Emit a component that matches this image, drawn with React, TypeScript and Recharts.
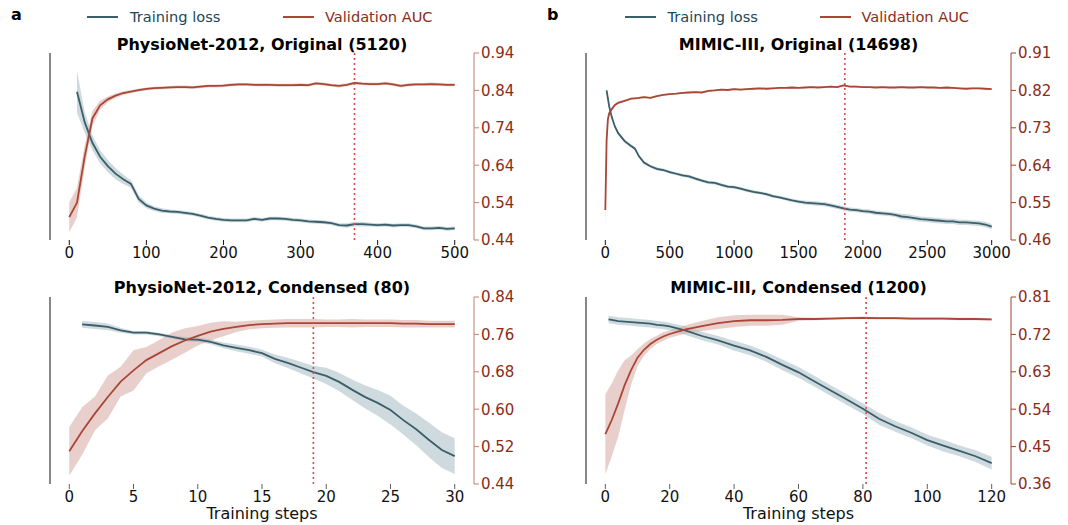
import React from 'react';
import { ComposedChart, Line, Area, XAxis, YAxis, ReferenceLine } from 'recharts';

// ---------- Panel a: PhysioNet-2012, Original (5120) ----------
const aSteps = [0,10,20,30,40,50,60,70,80,90,100,110,120,130,140,150,160,170,180,190,200,210,220,230,240,250,260,270,280,290,300,310,320,330,340,350,360,370,380,390,400,410,420,430,440,450,460,470,480,490,500];
const aLoss = [null,0.577,0.512,0.468,0.438,0.418,0.402,0.390,0.380,0.348,0.334,0.327,0.323,0.321,0.320,0.318,0.316,0.312,0.308,0.305,0.303,0.302,0.302,0.302,0.305,0.303,0.306,0.306,0.305,0.303,0.302,0.300,0.299,0.298,0.296,0.292,0.291,0.294,0.294,0.293,0.292,0.293,0.291,0.292,0.292,0.289,0.285,0.285,0.286,0.284,0.285];
const aLossBand = [0,0.045,0.022,0.016,0.014,0.013,0.012,0.010,0.008,0.008,0.006,0.005,0.005,0.004,0.004,0.004,0.004,0.004,0.004,0.004,0.004,0.004,0.004,0.004,0.004,0.004,0.004,0.004,0.004,0.004,0.004,0.004,0.004,0.004,0.004,0.004,0.005,0.005,0.005,0.004,0.004,0.004,0.004,0.004,0.004,0.004,0.004,0.004,0.004,0.004,0.004];
const aAuc = [0.501,0.540,0.663,0.765,0.800,0.816,0.826,0.833,0.837,0.841,0.844,0.846,0.847,0.848,0.849,0.849,0.848,0.850,0.852,0.852,0.853,0.855,0.856,0.856,0.855,0.855,0.855,0.854,0.854,0.854,0.855,0.854,0.859,0.857,0.854,0.852,0.855,0.860,0.858,0.857,0.857,0.859,0.856,0.852,0.855,0.856,0.856,0.857,0.856,0.855,0.855];
const aAucBand = [0.040,0.040,0.030,0.020,0.012,0.008,0.006,0.005,0.004,0.004,0.004,0.004,0.004,0.004,0.004,0.004,0.004,0.004,0.004,0.004,0.004,0.004,0.004,0.004,0.004,0.004,0.004,0.004,0.004,0.004,0.004,0.004,0.004,0.004,0.004,0.004,0.004,0.004,0.004,0.004,0.004,0.004,0.004,0.004,0.004,0.004,0.004,0.004,0.004,0.004,0.004];
const aXTicks = [0,100,200,300,400,500];
const aLeftTicks = [0.26,0.34,0.42,0.50,0.58,0.66];
const aRightTicks = [0.44,0.54,0.64,0.74,0.84,0.94];
const aBest = 370;

// ---------- Panel b: MIMIC-III, Original (14698) ----------
const bSteps = [0,10,20,30,50,75,100,150,200,230,260,300,350,400,450,500,550,600,650,700,750,800,850,900,950,1000,1050,1100,1150,1200,1250,1300,1350,1400,1450,1500,1550,1600,1650,1700,1750,1800,1850,1900,1950,2000,2050,2100,2150,2200,2250,2300,2350,2400,2450,2500,2550,2600,2650,2700,2750,2800,2850,2900,2950,3000];
const bLoss = [null,0.680,0.665,0.650,0.630,0.612,0.600,0.585,0.576,0.571,0.557,0.545,0.538,0.533,0.531,0.527,0.524,0.521,0.519,0.515,0.511,0.508,0.507,0.503,0.500,0.499,0.496,0.493,0.490,0.488,0.486,0.482,0.480,0.477,0.474,0.472,0.470,0.469,0.468,0.467,0.465,0.462,0.459,0.457,0.456,0.454,0.453,0.451,0.450,0.449,0.447,0.444,0.443,0.441,0.439,0.438,0.437,0.436,0.435,0.435,0.433,0.433,0.432,0.431,0.429,0.425];
const bLossBand = [0,0.006,0.005,0.004,0.004,0.003,0.003,0.003,0.003,0.003,0.003,0.003,0.003,0.003,0.003,0.003,0.003,0.003,0.003,0.003,0.003,0.003,0.003,0.003,0.003,0.003,0.003,0.003,0.003,0.003,0.003,0.003,0.003,0.003,0.003,0.003,0.004,0.004,0.004,0.004,0.004,0.004,0.004,0.004,0.004,0.004,0.004,0.004,0.004,0.004,0.004,0.005,0.005,0.005,0.005,0.005,0.005,0.005,0.005,0.005,0.005,0.005,0.005,0.005,0.005,0.005];
const bAuc = [0.532,0.700,0.750,0.765,0.775,0.785,0.790,0.795,0.800,0.801,0.802,0.804,0.802,0.806,0.809,0.811,0.812,0.814,0.815,0.816,0.815,0.819,0.820,0.822,0.821,0.823,0.822,0.823,0.824,0.825,0.824,0.825,0.826,0.826,0.827,0.826,0.827,0.828,0.827,0.828,0.829,0.828,0.832,0.829,0.829,0.828,0.828,0.827,0.828,0.827,0.827,0.828,0.827,0.827,0.828,0.827,0.827,0.826,0.827,0.826,0.825,0.824,0.825,0.825,0.824,0.823];
const bAucBand = [0.050,0.030,0.012,0.006,0.004,0.003,0.003,0.002,0.002,0.002,0.002,0.002,0.002,0.002,0.002,0.002,0.002,0.002,0.002,0.002,0.002,0.002,0.002,0.002,0.002,0.002,0.002,0.002,0.002,0.002,0.002,0.002,0.002,0.002,0.002,0.002,0.002,0.002,0.002,0.002,0.002,0.002,0.002,0.002,0.002,0.002,0.002,0.002,0.002,0.002,0.002,0.002,0.002,0.002,0.002,0.002,0.002,0.002,0.002,0.002,0.002,0.002,0.002,0.002,0.002,0.002];
const bXTicks = [0,500,1000,1500,2000,2500,3000];
const bLeftTicks = [0.40,0.47,0.54,0.61,0.68,0.75];
const bRightTicks = [0.46,0.55,0.64,0.73,0.82,0.91];
const bBest = 1860;

// ---------- Panel c: PhysioNet-2012, Condensed (80) ----------
const cSteps = [0,1,2,3,4,5,6,7,8,9,10,11,12,13,14,15,16,17,18,19,20,21,22,23,24,25,26,27,28,29,30];
const cLoss = [null,0.695,0.691,0.686,0.674,0.666,0.666,0.660,0.651,0.643,0.642,0.634,0.622,0.613,0.605,0.595,0.575,0.561,0.545,0.529,0.516,0.495,0.468,0.443,0.422,0.397,0.362,0.330,0.293,0.258,0.237];
const cLossBand = [0,0.012,0.012,0.012,0.008,0.006,0.006,0.006,0.006,0.008,0.008,0.008,0.010,0.012,0.012,0.012,0.015,0.018,0.020,0.022,0.028,0.032,0.035,0.040,0.045,0.050,0.050,0.055,0.060,0.062,0.062];
const cAuc = [0.510,0.553,0.591,0.626,0.659,0.683,0.705,0.720,0.735,0.747,0.757,0.766,0.772,0.776,0.780,0.782,0.783,0.784,0.784,0.784,0.784,0.784,0.784,0.784,0.784,0.784,0.783,0.783,0.782,0.782,0.782];
const cAucBand = [0.052,0.051,0.036,0.046,0.032,0.043,0.028,0.028,0.029,0.026,0.021,0.019,0.016,0.011,0.009,0.009,0.009,0.009,0.009,0.009,0.008,0.008,0.009,0.008,0.008,0.008,0.008,0.008,0.007,0.007,0.007];
const cXTicks = [0,5,10,15,20,25,30];
const cLeftTicks = [0.14,0.27,0.40,0.53,0.66,0.79];
const cRightTicks = [0.44,0.52,0.60,0.68,0.76,0.84];
const cBest = 19;

// ---------- Panel d: MIMIC-III, Condensed (1200) ----------
const dSteps = [0,1,2,4,6,8,10,12,14,16,18,20,25,30,35,40,45,50,55,60,65,70,75,80,85,90,95,100,105,110,115,120];
const dLoss = [null,0.698,0.697,0.695,0.694,0.693,0.692,0.691,0.690,0.688,0.687,0.685,0.677,0.667,0.659,0.649,0.640,0.628,0.613,0.599,0.582,0.565,0.548,0.531,0.512,0.498,0.486,0.472,0.462,0.452,0.442,0.429];
const dLossBand = [0,0.007,0.007,0.007,0.007,0.007,0.007,0.007,0.007,0.007,0.007,0.007,0.008,0.008,0.008,0.009,0.009,0.009,0.010,0.010,0.010,0.010,0.010,0.010,0.011,0.010,0.010,0.010,0.011,0.010,0.011,0.012];
const dAuc = [0.480,0.497,0.514,0.554,0.598,0.634,0.664,0.683,0.697,0.707,0.715,0.721,0.732,0.740,0.747,0.752,0.754,0.754,0.755,0.757,0.757,0.758,0.759,0.760,0.759,0.759,0.758,0.758,0.758,0.757,0.757,0.756];
const dAucBand = [0.096,0.092,0.088,0.080,0.060,0.035,0.020,0.015,0.012,0.010,0.010,0.009,0.010,0.012,0.014,0.014,0.013,0.013,0.012,0.004,0.003,0.003,0.003,0.003,0.003,0.003,0.003,0.003,0.003,0.003,0.003,0.003];
const dXTicks = [0,20,40,60,80,100,120];
const dLeftTicks = [0.39,0.46,0.53,0.60,0.67,0.74];
const dRightTicks = [0.36,0.45,0.54,0.63,0.72,0.81];
const dBest = 81;

const seriesNames = ['Training loss', 'Validation AUC'];
const titles = ['PhysioNet-2012, Original (5120)', 'MIMIC-III, Original (14698)', 'PhysioNet-2012, Condensed (80)', 'MIMIC-III, Condensed (1200)'];

const LOSS = '#3a5e6a';
const AUC = '#aa4636';
const LOSS_TXT = '#1c4757';
const AUC_TXT = '#8c2b18';
const FONT = "'DejaVu Sans', sans-serif";

function buildData(steps, loss, lossBand, auc, aucBand) {
  return steps.map((s, i) => ({
    step: s,
    loss: loss[i],
    lossRange: loss[i] == null ? null : [loss[i] - lossBand[i], loss[i] + lossBand[i]],
    auc: auc[i],
    aucRange: auc[i] == null ? null : [auc[i] - aucBand[i], auc[i] + aucBand[i]],
  }));
}

// Axis layer: spines, ticks and tick labels (no nulls / range areas here)
function AxesChart(p) {
  const data = p.steps.map((s, i) => ({ step: s, auc: p.auc[i] }));
  const firstX = p.xTicks[0];
  const lastX = p.xTicks[p.xTicks.length - 1];
  const lmin = p.leftTicks[0];
  const lmax = p.leftTicks[p.leftTicks.length - 1];
  const rmin = p.rightTicks[0];
  const rmax = p.rightTicks[p.rightTicks.length - 1];
  const spineColor = p.bottom ? '#5e5e5e' : '#111111';
  return (
    <ComposedChart width={p.width} height={p.height} data={data}
      margin={{ top: p.mTop, right: 0, bottom: 0, left: 0 }}>
      <XAxis dataKey="step" type="number" domain={p.xDomain} ticks={p.xTicks} interval={0}
        height={p.xH} axisLine={false} stroke={spineColor} tickSize={5} tickMargin={2}
        tick={{ fontSize: 15, fill: '#111', fontFamily: FONT }}
        label={p.bottom ? { value: 'Training steps', position: 'insideBottom', offset: 6, fontSize: 16, fill: '#111', fontFamily: FONT } : undefined} />
      <YAxis yAxisId="left" orientation="left" width={p.leftW} domain={[lmin, lmax]}
        ticks={p.leftTicks} interval={0} type="number" stroke="#111111" tickSize={5} tickMargin={2}
        tickFormatter={(v) => v.toFixed(2)}
        tick={{ fontSize: 15, fill: LOSS_TXT, fontFamily: FONT }} />
      <YAxis yAxisId="right" orientation="right" width={p.rightW} domain={[rmin, rmax]}
        ticks={p.rightTicks} interval={0} type="number" stroke={p.rightSpine} tickSize={5} tickMargin={2}
        tickFormatter={(v) => v.toFixed(2)}
        tick={{ fontSize: 15, fill: AUC_TXT, fontFamily: FONT }} />
      <Line yAxisId="right" dataKey="auc" stroke="none" dot={false} legendType="none" isAnimationActive={false} />
      <ReferenceLine yAxisId="left" ifOverflow="visible" segment={[{ x: firstX, y: lmin }, { x: lastX, y: lmin }]}
        stroke={spineColor} strokeWidth={p.bottom ? 1.8 : 1.2} />
    </ComposedChart>
  );
}

// Series layer: bands, lines, best-step marker (axes hidden, same plot box)
function SeriesChart(p) {
  const data = buildData(p.steps, p.loss, p.lossBand, p.auc, p.aucBand);
  const lmin = p.leftTicks[0];
  const lmax = p.leftTicks[p.leftTicks.length - 1];
  const rmin = p.rightTicks[0];
  const rmax = p.rightTicks[p.rightTicks.length - 1];
  return (
    <ComposedChart width={p.width} height={p.height} data={data}
      margin={{ top: p.mTop, right: p.rightW, bottom: p.xH, left: p.leftW }}>
      <XAxis dataKey="step" type="number" domain={p.xDomain} hide />
      <YAxis yAxisId="left" type="number" domain={[lmin, lmax]} hide />
      <YAxis yAxisId="right" orientation="right" type="number" domain={[rmin, rmax]} hide />
      <Area yAxisId="left" dataKey="lossRange" type="linear" stroke="none" fill="#9db6bd" fillOpacity={0.5}
        isAnimationActive={false} legendType="none" />
      <Line yAxisId="left" dataKey="loss" name={seriesNames[0]} type="linear" stroke={LOSS} strokeWidth={1.8}
        dot={false} isAnimationActive={false} />
      <Area yAxisId="right" dataKey="aucRange" type="linear" stroke="none" fill="#d4a098" fillOpacity={0.5}
        isAnimationActive={false} legendType="none" />
      <Line yAxisId="right" dataKey="auc" name={seriesNames[1]} type="linear" stroke={AUC} strokeWidth={1.8}
        dot={false} isAnimationActive={false} />
      <ReferenceLine yAxisId="left" x={p.best} stroke="#dc4a4a" strokeWidth={1.6} strokeDasharray="2 3" />
    </ComposedChart>
  );
}

function Panel(p) {
  return (
    <div style={{ position: 'absolute', left: p.left, top: p.top, width: p.width, height: p.height }}>
      <div style={{ position: 'absolute', left: 0, top: 0 }}>
        <AxesChart {...p} />
      </div>
      <div style={{ position: 'absolute', left: 0, top: 0 }}>
        <SeriesChart {...p} />
      </div>
    </div>
  );
}

const txt = (left, top, size, color, weight, content, center) => (
  <div style={{
    position: 'absolute', left, top, fontSize: size, lineHeight: size + 'px', color, fontWeight: weight,
    whiteSpace: 'nowrap', transform: center ? 'translateX(-50%)' : undefined, fontFamily: FONT,
  }}>{content}</div>
);

function LegendRow({ x0, x1 }) {
  return (
    <>
      <div style={{ position: 'absolute', left: x0, top: 16.3, width: 31, height: 2, background: LOSS }} />
      {txt(x0 + 43, 10.35, 14.6, LOSS_TXT, 'normal', seriesNames[0], false)}
      <div style={{ position: 'absolute', left: x1, top: 16.3, width: 31, height: 2, background: AUC }} />
      {txt(x1 + 42, 10.35, 14.6, AUC_TXT, 'normal', seriesNames[1], false)}
    </>
  );
}

export default function App() {
  return (
    <div style={{ position: 'absolute', left: 0, top: 0, width: 1068, height: 525, background: '#fff', fontFamily: FONT }}>
      <Panel left={0} top={0} width={534} height={265} mTop={53} xH={25} leftW={50} rightW={60}
        steps={aSteps} loss={aLoss} lossBand={aLossBand} auc={aAuc} aucBand={aAucBand}
        xDomain={[-25, 525]} xTicks={aXTicks} leftTicks={aLeftTicks} rightTicks={aRightTicks}
        best={aBest} bottom={false} rightSpine="#c27f73" />
      <Panel left={534} top={0} width={534} height={265} mTop={53} xH={25} leftW={52} rightW={57}
        steps={bSteps} loss={bLoss} lossBand={bLossBand} auc={bAuc} aucBand={bAucBand}
        xDomain={[-150, 3150]} xTicks={bXTicks} leftTicks={bLeftTicks} rightTicks={bRightTicks}
        best={bBest} bottom={false} rightSpine="#a2402f" />
      <Panel left={0} top={265} width={534} height={260} mTop={32} xH={41} leftW={50} rightW={60}
        steps={cSteps} loss={cLoss} lossBand={cLossBand} auc={cAuc} aucBand={cAucBand}
        xDomain={[-1.5, 31.5]} xTicks={cXTicks} leftTicks={cLeftTicks} rightTicks={cRightTicks}
        best={cBest} bottom={true} rightSpine="#c27f73" />
      <Panel left={534} top={265} width={534} height={260} mTop={32} xH={41} leftW={52} rightW={57}
        steps={dSteps} loss={dLoss} lossBand={dLossBand} auc={dAuc} aucBand={dAucBand}
        xDomain={[-6, 126]} xTicks={dXTicks} leftTicks={dLeftTicks} rightTicks={dRightTicks}
        best={dBest} bottom={true} rightSpine="#a2402f" />
      {txt(11, 6.5, 16, '#000', 'bold', 'a', false)}
      {txt(547, 6.5, 16, '#000', 'bold', 'b', false)}
      <LegendRow x0={87} x1={283} />
      <LegendRow x0={624.5} x1={819.5} />
      {txt(262, 36.5, 16, '#000', 'bold', titles[0], true)}
      {txt(798.5, 36.5, 16, '#000', 'bold', titles[1], true)}
      {txt(262, 279.5, 16, '#000', 'bold', titles[2], true)}
      {txt(798.5, 279.5, 16, '#000', 'bold', titles[3], true)}
    </div>
  );
}
